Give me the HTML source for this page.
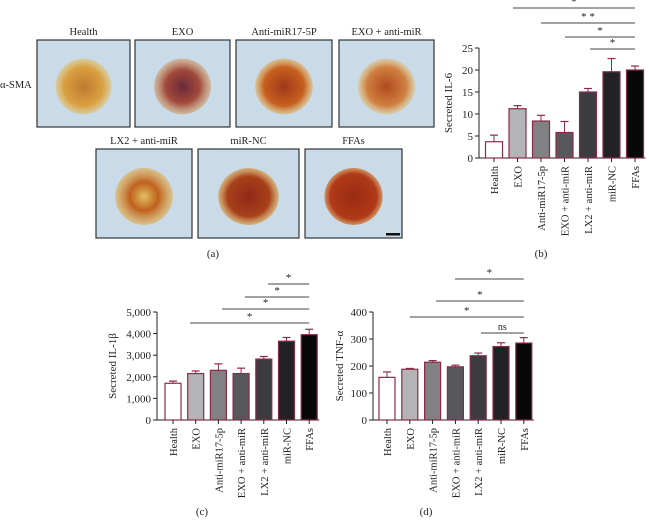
<!DOCTYPE html>
<html><head><meta charset="utf-8"><style>
body{margin:0;background:#fff;}
svg{display:block;}
svg text{font-family:"Liberation Serif",serif;}
</style></head><body>
<svg id="fig" width="649" height="520" viewBox="0 0 649 520" xmlns="http://www.w3.org/2000/svg" font-family="Liberation Serif, serif">
<defs>
<radialGradient id="g1"><stop offset="0" stop-color="#c07a30"/><stop offset="0.7" stop-color="#d9a040"/><stop offset="1" stop-color="#e0c070" stop-opacity="0.6"/></radialGradient>
<radialGradient id="g2"><stop offset="0" stop-color="#6a2a3a"/><stop offset="0.6" stop-color="#a24a3a"/><stop offset="1" stop-color="#d0a070" stop-opacity="0.6"/></radialGradient>
<radialGradient id="g3"><stop offset="0" stop-color="#a0381a"/><stop offset="0.7" stop-color="#c8601e"/><stop offset="1" stop-color="#e0b060" stop-opacity="0.6"/></radialGradient>
<radialGradient id="g4"><stop offset="0" stop-color="#b04a20"/><stop offset="0.7" stop-color="#d08040"/><stop offset="1" stop-color="#e0c080" stop-opacity="0.6"/></radialGradient>
<radialGradient id="g5"><stop offset="0" stop-color="#e0c060"/><stop offset="0.5" stop-color="#c0601e"/><stop offset="1" stop-color="#e0b050" stop-opacity="0.6"/></radialGradient>
<radialGradient id="g6"><stop offset="0" stop-color="#902a18"/><stop offset="0.7" stop-color="#a8401a"/><stop offset="1" stop-color="#d8a050" stop-opacity="0.7"/></radialGradient>
<radialGradient id="g7"><stop offset="0" stop-color="#9a2a14"/><stop offset="0.8" stop-color="#b03a18"/><stop offset="1" stop-color="#d08040" stop-opacity="0.8"/></radialGradient>
</defs>
<g id="panelA"></g>
<g id="chartB"></g>
<g id="chartC"></g>
<g id="chartD"></g>
</svg>
<script>
const categories = ["Health","EXO","Anti-miR17-5p","EXO + anti-miR","LX2 + anti-miR","miR-NC","FFAs"];
const il6Values = [3.7,11.2,8.4,5.8,15.0,19.6,20.0];
const il6Errors = [1.5,0.7,1.3,2.5,0.8,3.0,0.9];
const il6Ticks = [0,5,10,15,20,25];
const il1bValues = [1700,2150,2300,2150,2820,3650,3950];
const il1bErrors = [100,120,300,250,120,170,250];
const il1bTicks = [0,1000,2000,3000,4000,5000];
const il1bTickLabels = ["0","1,000","2,000","3,000","4,000","5,000"];
const tnfValues = [158,188,214,197,238,272,285];
const tnfErrors = [20,3,6,6,10,14,20];
const tnfTicks = [0,100,200,300,400];
const barColors = ["#ffffff","#b4b4b6","#818184","#58585c","#3c3c40","#222225","#080808"];
const NS="http://www.w3.org/2000/svg";
const FF="Liberation Serif, serif";
function mk(parent,tag,attrs,text){const e=document.createElementNS(NS,tag);for(const k in attrs)e.setAttribute(k,attrs[k]);if(tag==='text')e.setAttribute('font-family',FF);if(text!==undefined)e.textContent=text;parent.appendChild(e);return e;}

function drawChart(gid,o){
  const g=document.getElementById(gid);
  const yScale=v=>o.y0-(v-o.ticks[0])/(o.ticks[o.ticks.length-1]-o.ticks[0])*(o.y0-o.yTop);
  const xScale=i=>o.x0+i*o.step;
  const ax=mk(g,'line',{x1:o.axisX,y1:o.yTop,x2:o.axisX,y2:o.y0,stroke:'#222','stroke-width':1});
  
  const xa=mk(g,'line',{x1:o.axisX,y1:o.y0,x2:xScale(6)+o.bw/2+2,y2:o.y0,stroke:'#222','stroke-width':1});
  
  o.ticks.forEach((t,i)=>{const y=yScale(t);
    mk(g,'line',{x1:o.axisX-4,y1:y,x2:o.axisX,y2:y,stroke:'#222'});
    const tl=mk(g,'text',{x:o.axisX-6,y:y+4,'text-anchor':'end','font-size':11,fill:'#222'},o.tickLabels?o.tickLabels[i]:String(t));
    
  });
  o.values.forEach((v,i)=>{const cx=xScale(i);
    const top=yScale(v), et=yScale(v+o.errors[i]);
    mk(g,'line',{x1:cx,y1:top,x2:cx,y2:et,stroke:'#8a2a4a','stroke-width':1});
    mk(g,'line',{x1:cx-4,y1:et,x2:cx+4,y2:et,stroke:'#8a2a4a','stroke-width':1.2});
    const r=mk(g,'rect',{x:cx-o.bw/2,y:top,width:o.bw,height:o.y0-top,fill:barColors[i],stroke:'#8a2a4a','stroke-width':1.2});
    
    
    mk(g,'line',{x1:cx,y1:o.y0,x2:cx,y2:o.y0+4,stroke:'#222'});
    const lb=mk(g,'text',{x:0,y:0,'text-anchor':'end','font-size':10.5,fill:'#222',transform:`translate(${cx+4},${o.y0+8}) rotate(-90)`},categories[i]);
    
  });
  const yl=mk(g,'text',{x:0,y:0,'text-anchor':'middle','font-size':11,fill:'#222',transform:`translate(${o.ylx},${(o.y0+o.yTop)/2}) rotate(-90)`},o.ylabel);
  
  o.sig.forEach(s=>{
    const xa1=xScale(s[0]), xa2=xScale(6);
    const ln=mk(g,'line',{x1:xa1,y1:s[2],x2:xa2,y2:s[2],stroke:'#444','stroke-width':1});
    
    const st=mk(g,'text',{x:(xa1+xa2)/2,y:s[2]-3,'text-anchor':'middle','font-size':s[1]=='ns'?10:11,fill:'#222'},s[1]);
    
  });
  const pl=mk(g,'text',{x:o.plx,y:o.ply,'text-anchor':'middle','font-size':11,fill:'#222'},o.panel);
  
}
drawChart('chartB',{values:il6Values,errors:il6Errors,ticks:il6Ticks,axisX:479,y0:158,yTop:48,x0:494,step:23.5,bw:17,ylabel:'Secreted IL-6',ylx:452,
  sig:[[0.81,'*',8],[2.0,'* *',23],[3.02,'*',37],[4.09,'*',49]],panel:'(b)',plx:541,ply:257});
drawChart('chartC',{values:il1bValues,errors:il1bErrors,ticks:il1bTicks,tickLabels:il1bTickLabels,axisX:157,y0:420,yTop:312,x0:173,step:22.7,bw:16,ylabel:'Secreted IL-1\u03B2',ylx:116,
  sig:[[4.18,'*',284],[3.17,'*',297],[2.16,'*',309],[0.75,'*',323]],panel:'(c)',plx:202,ply:515});
drawChart('chartD',{values:tnfValues,errors:tnfErrors,ticks:tnfTicks,axisX:373,y0:420,yTop:312,x0:387,step:22.8,bw:16,ylabel:'Secreted TNF-\u03B1',ylx:343,
  sig:[[2.98,'*',279],[2.15,'*',301],[1.0,'*',317],[4.12,'ns',333]],panel:'(d)',plx:426,ply:515});

const imgLabels=["Health","EXO","Anti-miR17-5P","EXO + anti-miR","LX2 + anti-miR","miR-NC","FFAs"];
const boxes=[[37,40,93,87],[135,40,95,87],[236,40,96,87],[339,40,95,87],[96,149,96,89],[198,149,101,89],[305,149,97,89]];
const pa=document.getElementById('panelA');
boxes.forEach((b,i)=>{
  const grp=mk(pa,'g',{});
  
  
  mk(grp,'rect',{x:b[0],y:b[1],width:b[2],height:b[3],fill:'#c9dbe8',stroke:'#333','stroke-width':1.2});
  mk(grp,'ellipse',{cx:b[0]+b[2]/2,cy:b[1]+b[3]/2+3,rx:b[2]*0.3,ry:b[3]*0.32,fill:'url(#g'+(i+1)+')'});
  const t=mk(pa,'text',{x:b[0]+b[2]/2,y:b[1]-5,'text-anchor':'middle','font-size':10.5,fill:'#222'},imgLabels[i]);
  
});
const sb=mk(pa,'rect',{x:386,y:233,width:14,height:2.5,fill:'#111'});

const sma=mk(pa,'text',{x:0,y:88,'font-size':10.5,fill:'#222'},'\u03B1-SMA');

const pal=mk(pa,'text',{x:213,y:257,'text-anchor':'middle','font-size':11,fill:'#222'},'(a)');

</script>
</body></html>
